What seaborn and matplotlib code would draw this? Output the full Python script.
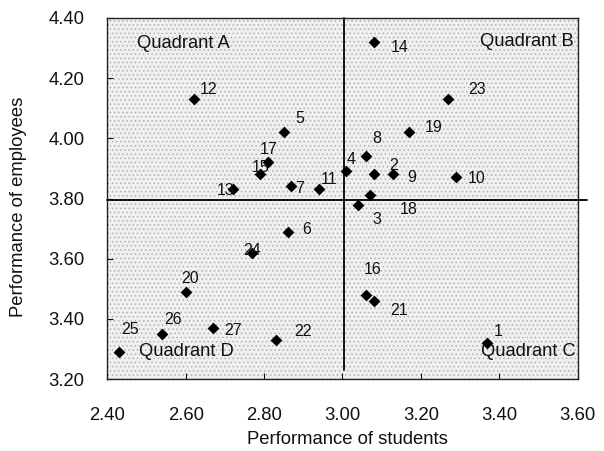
import matplotlib
matplotlib.use("Agg")
import matplotlib.pyplot as plt
import seaborn as sns
import pandas as pd
from matplotlib.patches import Rectangle

# ---- data ----
ids = list(range(1, 28))
students = [3.37, 3.08, 3.04, 3.01, 2.85, 2.86, 2.87, 3.06, 3.13, 3.29,
            2.94, 2.62, 2.72, 3.08, 2.79, 3.06, 2.81, 3.07, 3.17, 2.60,
            3.08, 2.83, 3.27, 2.77, 2.43, 2.54, 2.67]
employees = [3.32, 3.88, 3.78, 3.89, 4.02, 3.69, 3.84, 3.94, 3.88, 3.87,
             3.83, 4.13, 3.83, 4.32, 3.88, 3.48, 3.92, 3.81, 4.02, 3.49,
             3.46, 3.33, 4.13, 3.62, 3.29, 3.35, 3.37]
x_threshold = 3.004
y_threshold = 3.795
quadrant_names = ["Quadrant A", "Quadrant B", "Quadrant C", "Quadrant D"]
x_ticks = [2.40, 2.60, 2.80, 3.00, 3.20, 3.40, 3.60]
y_ticks = [3.20, 3.40, 3.60, 3.80, 4.00, 4.20, 4.40]

# label offsets in pixels (dx right, dy down) relative to marker
label_offsets_px = {
    1: (10.6, -11.6), 2: (20, -8.6), 3: (18.4, 15), 4: (4.7, -11.7),
    5: (15.7, -14.3), 6: (19.3, -2.3), 7: (8.5, 2.3), 8: (11.3, -17.7),
    9: (18.4, 3.3), 10: (21, 1.3), 11: (10.6, -10), 12: (15, -10),
    13: (-7.3, 0.7), 14: (26, 5.6), 15: (1, -7.3), 16: (7, -25),
    17: (1, -13), 18: (39, 13.8), 19: (25, -4.4), 20: (4.7, -13),
    21: (25, 9.3), 22: (27.3, -8.6), 23: (29, -9.3), 24: (-0.6, -2.4),
    25: (10.7, -22.6), 26: (11, -14.3), 27: (20, 2.4),
}

df = pd.DataFrame({"id": ids, "students": students, "employees": employees})

sns.set_theme(style="white")
plt.rcParams["font.family"] = ["Liberation Sans", "DejaVu Sans"]
plt.rcParams["hatch.linewidth"] = 0.6

fig = plt.figure(figsize=(6.04, 4.51), dpi=100)
ax = fig.add_axes([107.3 / 604, 72 / 451, 470.2 / 604, 361 / 451])

# halftone-like background
ax.add_patch(Rectangle((0, 0), 1, 1, transform=ax.transAxes,
                       facecolor="#f0f0f0", edgecolor="#b0b0b0",
                       hatch="....", linewidth=0, zorder=0))

sns.scatterplot(data=df, x="students", y="employees", marker="D", s=36,
                color="black", linewidth=0, ax=ax, zorder=4, legend=False)

ax.set_xlim(2.40, 3.60)
ax.set_ylim(3.20, 4.40)

# quadrant lines
ax.plot([x_threshold, x_threshold], [3.23, 4.40], color="black", lw=1.3,
        zorder=3, clip_on=False)
ax.plot([2.40, 3.625], [y_threshold, y_threshold], color="black", lw=1.3,
        zorder=3, clip_on=False)

# point labels
for i, xv, yv in zip(ids, students, employees):
    dx, dy = label_offsets_px[i]
    ax.annotate(str(i), (xv, yv), xytext=(dx * 0.72, -dy * 0.72),
                textcoords="offset points", ha="center", va="center",
                fontsize=11.5, color="#111111", zorder=5)

# quadrant names
qfs = 13.2
ax.text(2.475, 4.316, quadrant_names[0], ha="left", va="center", fontsize=qfs, color="#111111", zorder=5)
ax.text(3.590, 4.321, quadrant_names[1], ha="right", va="center", fontsize=qfs, color="#111111", zorder=5)
ax.text(3.594, 3.291, quadrant_names[2], ha="right", va="center", fontsize=qfs, color="#111111", zorder=5)
ax.text(2.481, 3.291, quadrant_names[3], ha="left", va="center", fontsize=qfs, color="#111111", zorder=5)

ax.set_xticks(x_ticks)
ax.set_yticks(y_ticks)
ax.set_xticklabels([f"{t:.2f}" for t in x_ticks])
ax.set_yticklabels([f"{t:.2f}" for t in y_ticks])
ax.tick_params(axis="x", direction="in", length=4, width=0.8, pad=20.5,
               labelsize=13.3, colors="#111111", bottom=True)
ax.tick_params(axis="y", direction="in", length=4, width=0.8, pad=16.5,
               labelsize=13.3, colors="#111111", left=True)

for sp in ax.spines.values():
    sp.set_color("#222222")
    sp.set_linewidth(1.0)
    sp.set_zorder(3)

ax.set_xlabel("Performance of students", fontsize=13.3, color="#111111")
ax.set_ylabel("Performance of employees", fontsize=13.3, color="#111111")
ax.xaxis.set_label_coords(0.511, -0.168)
ax.xaxis.label.set_verticalalignment("center")
ax.yaxis.set_label_coords(-0.188, 0.476)
ax.yaxis.label.set_verticalalignment("center")

fig.savefig("out.png", dpi=100)
